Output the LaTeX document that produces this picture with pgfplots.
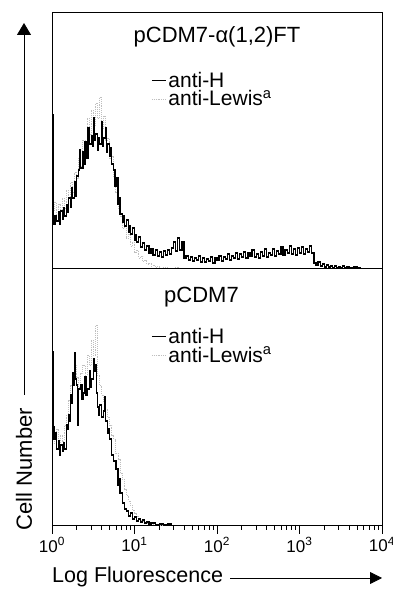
\documentclass[border=0pt]{standalone}
\usepackage{pgfplots}
\pgfplotsset{compat=1.18}
\usepackage{pgfplotstable}
\usepackage{fontspec}
\setmainfont{Liberation Sans}
\usetikzlibrary{arrows.meta}

\pgfplotstableread{
x h
0.000 153
0.0125 50
0.025 44
0.0375 52
0.050 47
0.075 56
0.0875 44
0.100 57
0.125 49
0.1375 60
0.150 52
0.175 63
0.1875 56
0.200 70
0.225 61
0.2375 80
0.250 70
0.275 86
0.2875 72
0.300 92
0.325 98
0.3375 118
0.350 100
0.375 116
0.3875 104
0.400 126
0.425 110
0.4375 140
0.450 124
0.475 132
0.4875 122
0.500 150
0.5125 128
0.525 134
0.550 118
0.5625 130
0.575 124
0.600 146
0.6125 122
0.625 130
0.650 140
0.6625 116
0.675 124
0.700 112
0.7125 120
0.725 104
0.750 98
0.7625 82
0.775 90
0.800 64
0.8125 70
0.825 54
0.850 46
0.8625 52
0.875 42
0.900 48
0.925 36
0.9375 42
0.950 34
0.975 40
1.000 28
1.0125 33
1.025 26
1.050 31
1.075 21
1.100 25
1.125 18
1.150 22
1.175 15
1.200 19
1.225 13
1.250 18
1.275 12
1.300 16
1.325 11
1.350 17
1.375 13
1.400 18
1.425 14
1.450 20
1.475 26
1.500 17
1.525 30
1.550 18
1.575 26
1.600 10
1.625 12
1.650 8
1.675 11
1.700 7
1.725 10
1.750 8
1.775 12
1.800 6
1.825 10
1.850 6
1.875 9
1.900 7
1.925 11
1.950 5
1.975 10
2.000 8
2.025 12
2.050 7
2.075 11
2.100 9
2.125 14
2.150 8
2.175 12
2.200 10
2.225 15
2.250 9
2.275 14
2.300 11
2.325 16
2.350 10
2.375 15
2.400 12
2.425 18
2.450 11
2.475 14
2.500 10
2.525 16
2.550 12
2.575 19
2.600 11
2.625 15
2.650 13
2.675 19
2.700 12
2.725 17
2.750 14
2.775 21
2.800 13
2.825 18
2.850 15
2.875 22
2.900 14
2.925 19
2.950 13
2.975 20
3.000 15
3.025 21
3.050 14
3.075 19
3.100 16
3.125 22
3.150 15
3.175 5
3.200 3
3.225 6
3.250 2
3.275 4
3.300 1
3.325 3
3.350 1
3.375 2
3.400 0
3.425 2
3.450 0
3.475 1
3.500 0
3.525 2
3.550 0
3.575 1
3.600 0
3.650 1
3.700 0
3.750 0
}\topH

\pgfplotstableread{
x h
0.000 140
0.0125 58
0.025 66
0.050 52
0.075 64
0.100 55
0.125 70
0.150 60
0.175 78
0.200 70
0.225 86
0.250 76
0.275 96
0.300 90
0.325 110
0.350 102
0.375 128
0.400 120
0.425 150
0.450 134
0.475 158
0.500 142
0.525 165
0.550 150
0.575 171
0.600 140
0.625 152
0.650 128
0.675 130
0.700 110
0.725 112
0.750 90
0.775 76
0.800 60
0.825 52
0.850 40
0.875 44
0.900 30
0.925 34
0.950 22
0.975 26
1.000 16
1.025 18
1.050 10
1.075 12
1.100 7
1.125 8
1.150 4
1.175 5
1.200 2
1.225 3
1.250 1
1.275 2
1.300 0
1.350 1
1.400 0
1.500 1
1.550 0
1.600 0
}\topLe

\pgfplotstableread{
x h
0.000 173
0.0125 98
0.025 86
0.0375 92
0.050 76
0.075 84
0.0875 70
0.100 80
0.125 74
0.1375 82
0.150 76
0.175 100
0.1875 96
0.200 110
0.2125 104
0.225 130
0.2375 122
0.250 152
0.2625 140
0.275 172
0.2875 146
0.300 140
0.3125 100
0.325 136
0.350 140
0.3625 126
0.375 132
0.400 148
0.4125 130
0.425 136
0.450 154
0.4625 138
0.475 146
0.500 166
0.5125 154
0.525 160
0.5375 132
0.550 118
0.5625 110
0.575 120
0.600 108
0.625 114
0.6375 128
0.650 104
0.675 92
0.6875 96
0.700 86
0.725 70
0.750 64
0.775 56
0.800 40
0.8125 46
0.825 32
0.850 22
0.875 16
0.900 14
0.925 9
0.950 12
0.975 6
1.000 8
1.025 4
1.050 6
1.075 3
1.100 5
1.125 2
1.150 3
1.175 1
1.200 2
1.250 0
1.300 1
1.350 0
1.400 1
1.450 0
}\botH

\pgfplotstableread{
x h
0.000 150
0.0125 92
0.025 82
0.050 96
0.075 80
0.100 90
0.125 84
0.150 100
0.175 110
0.200 125
0.225 140
0.250 150
0.275 160
0.300 148
0.325 138
0.350 152
0.375 160
0.400 150
0.425 170
0.450 160
0.475 185
0.500 170
0.525 200
0.550 150
0.575 140
0.600 130
0.625 124
0.650 116
0.675 108
0.700 100
0.725 90
0.750 86
0.775 72
0.800 66
0.825 52
0.850 46
0.875 36
0.900 30
0.925 24
0.950 20
0.975 15
1.000 12
1.025 9
1.050 7
1.075 5
1.100 4
1.125 3
1.150 2
1.200 1
1.250 0
1.350 0
}\botLe

\pgfplotstableread{
x t
0 -9
1 -9
2 -9
3 -9
4 -9
0.30103 -5
0.47712 -5
0.60206 -5
0.69897 -5
0.77815 -5
0.84510 -5
0.90309 -5
0.95424 -5
1.30103 -5
1.47712 -5
1.60206 -5
1.69897 -5
1.77815 -5
1.84510 -5
1.90309 -5
1.95424 -5
2.30103 -5
2.47712 -5
2.60206 -5
2.69897 -5
2.77815 -5
2.84510 -5
2.90309 -5
2.95424 -5
3.30103 -5
3.47712 -5
3.60206 -5
3.69897 -5
3.77815 -5
3.84510 -5
3.90309 -5
3.95424 -5
}\ticktab

\pgfplotsset{
  histo/.style={
    scale only axis, width=330pt,
    xmin=0, xmax=4, ymin=0,
    axis line style={black, line width=0.8pt},
    legend style={draw=none, fill=none, font=\fontsize{21}{21}\selectfont,
      at={(axis description cs:0.30,0.775)}, anchor=north west,
      legend cell align=left, row sep=-2pt, inner sep=0pt},
    reverse legend,
    legend image code/.code={\draw[#1] (0pt,0pt) -- (14pt,0pt);},
  },
  hb/.style={black, line width=1.2pt, const plot},
  hg/.style={gray!50, densely dotted, line width=0.9pt, const plot},
}

\begin{document}
\begin{tikzpicture}

\begin{axis}[histo, at={(52pt,321pt)}, anchor=south west, height=256pt, ymax=256,
  xtick=\empty, ytick=\empty]
\addplot[hg] table[x=x,y=h] {\topLe};
\addlegendentry{anti-Lewis\textsuperscript{a}}
\addplot[hb] table[x=x,y=h] {\topH};
\addlegendentry{anti-H}
\end{axis}

\begin{axis}[histo, at={(52pt,64pt)}, anchor=south west, height=257pt, ymax=257,
  clip=false,
  ytick=\empty,
  xtick={0,1,2,3,4},
  xticklabels={10\textsuperscript{0},10\textsuperscript{1},10\textsuperscript{2},10\textsuperscript{3},10\textsuperscript{4}},
  xtick pos=left, tick align=outside,
  major tick length=9pt,
  major tick style={draw=black, line width=0.8pt},
  xticklabel style={font=\fontsize{17}{17}\selectfont}]
\addplot[black, line width=0.8pt, ycomb, forget plot] table[x=x,y=t] {\ticktab};
\addplot[hg] table[x=x,y=h] {\botLe};
\addlegendentry{anti-Lewis\textsuperscript{a}}
\addplot[hb] table[x=x,y=h] {\botH};
\addlegendentry{anti-H}
\end{axis}

\node[anchor=base, font=\fontsize{22}{22}\selectfont] at (217pt,546pt) {pCDM7-α(1,2)FT};
\node[anchor=base, font=\fontsize{22}{22}\selectfont] at (201.5pt,286pt) {pCDM7};

\node[rotate=90, font=\fontsize{22}{22}\selectfont, inner sep=0pt] at (24pt,120pt) {Cell Number};
\draw[line width=0.8pt, -{Triangle[width=14pt,length=12pt]}] (24pt,194pt) -- (24pt,566pt);

\node[anchor=base west, font=\fontsize{21.5}{21.5}\selectfont, inner sep=0pt] at (52pt,6pt) {Log Fluorescence};
\draw[line width=0.8pt, -{Triangle[width=12pt,length=12pt]}] (230pt,11pt) -- (382pt,11pt);

\pgfresetboundingbox
\path[use as bounding box] (0pt,0pt) rectangle (393pt,589pt);
\end{tikzpicture}
\end{document}
